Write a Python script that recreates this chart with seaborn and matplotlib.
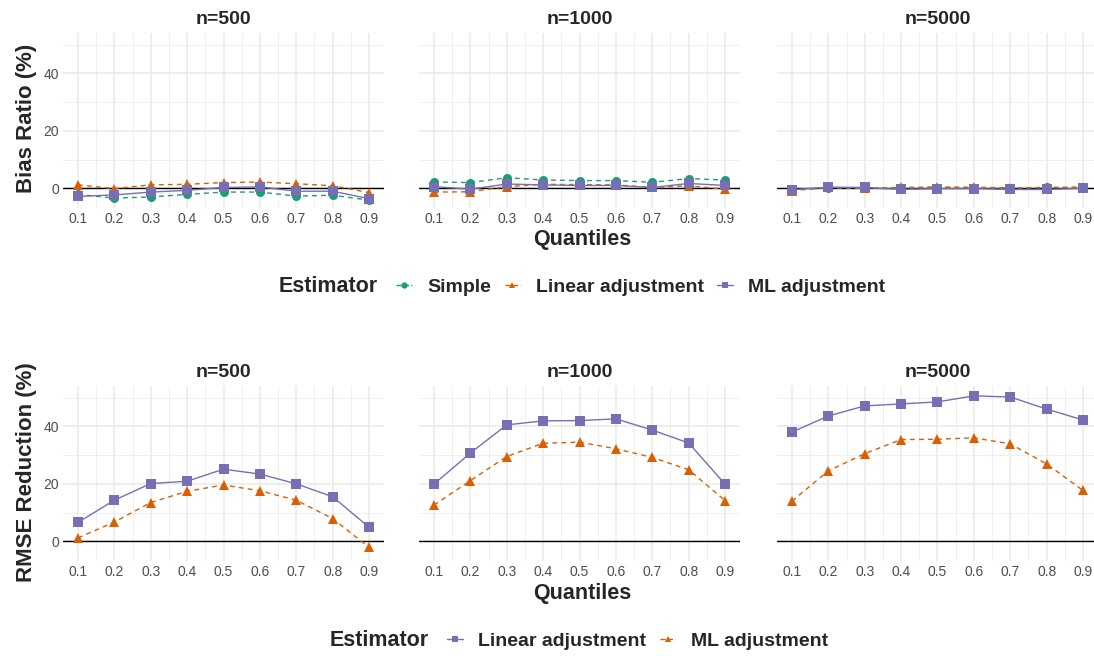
import numpy as np
import pandas as pd
import seaborn as sns
import matplotlib
matplotlib.use('Agg')
import matplotlib.pyplot as plt
from matplotlib.lines import Line2D
from matplotlib.ticker import FixedLocator

# Data
quantiles = [0.1, 0.2, 0.3, 0.4, 0.5, 0.6, 0.7, 0.8, 0.9]
panels = ['n=500', 'n=1000', 'n=5000']

# Bias ratio (%)
bias_simple_500 = [-2.1, -3.4, -3.0, -2.1, -1.3, -1.3, -2.7, -2.4, -4.1]
bias_linear_500 = [1.2, -0.1, 1.2, 1.4, 2.0, 2.2, 1.6, 0.9, -1.5]
bias_ml_500 = [-2.8, -2.3, -1.3, -0.7, 0.3, 0.5, -1.0, -1.0, -3.6]

bias_simple_1000 = [2.2, 2.0, 3.7, 2.9, 2.7, 2.7, 2.1, 3.4, 2.9]
bias_linear_1000 = [-1.3, -1.2, 0.6, 1.4, 1.3, 1.2, 0.3, 0.9, -0.3]
bias_ml_1000 = [0.6, -0.3, 1.5, 1.2, 1.0, 1.0, 0.3, 1.7, 1.0]

bias_simple_5000 = [-0.5, 0.2, 0.0, 0.0, 0.2, 0.1, 0.0, 0.3, 0.3]
bias_linear_5000 = [-0.8, 0.3, 0.1, 0.3, 0.5, 0.4, 0.2, 0.3, 0.4]
bias_ml_5000 = [-0.5, 0.4, 0.3, -0.4, -0.1, -0.1, -0.4, -0.4, 0.0]

# RMSE reduction (%)
rmse_linear_500 = [6.6, 14.3, 20.1, 20.9, 25.1, 23.4, 20.0, 15.5, 4.9]
rmse_ml_500 = [1.2, 6.7, 13.5, 17.4, 19.6, 17.6, 14.3, 7.9, -2.1]

rmse_linear_1000 = [19.9, 30.7, 40.5, 41.9, 42.0, 42.6, 38.7, 34.2, 19.9]
rmse_ml_1000 = [12.6, 21.1, 29.5, 34.1, 34.5, 32.2, 29.2, 24.9, 14.2]

rmse_linear_5000 = [38.0, 43.6, 47.1, 47.8, 48.5, 50.6, 50.2, 46.0, 42.2]
rmse_ml_5000 = [14.0, 24.5, 30.5, 35.4, 35.5, 36.0, 33.9, 26.9, 17.7]

bias_rows = []
for p, s, l, m in zip(panels,
                      [bias_simple_500, bias_simple_1000, bias_simple_5000],
                      [bias_linear_500, bias_linear_1000, bias_linear_5000],
                      [bias_ml_500, bias_ml_1000, bias_ml_5000]):
    for name, vals in [('Simple', s), ('Linear adjustment', l), ('ML adjustment', m)]:
        for q, v in zip(quantiles, vals):
            bias_rows.append({'n': p, 'Estimator': name, 'q': q, 'value': v})
bias = pd.DataFrame(bias_rows)

rmse_rows = []
for p, l, m in zip(panels,
                   [rmse_linear_500, rmse_linear_1000, rmse_linear_5000],
                   [rmse_ml_500, rmse_ml_1000, rmse_ml_5000]):
    for name, vals in [('Linear adjustment', l), ('ML adjustment', m)]:
        for q, v in zip(quantiles, vals):
            rmse_rows.append({'n': p, 'Estimator': name, 'q': q, 'value': v})
rmse = pd.DataFrame(rmse_rows)

green, orange, purple = '#1B9E77', '#D95F02', '#7570B3'
dash = (3.5, 3.0)

sns.set_style('white')
plt.rcParams['font.family'] = ['Liberation Sans', 'DejaVu Sans']

W, H = 1094, 656
fig = plt.figure(figsize=(W / 100, H / 100), dpi=100)

lefts = [63.4, 419.4, 777.4]
pw = 320.2
row_tops = [32.5, 385.5]
ph = 175.1


def style_ax(ax, first):
    ax.set_xlim(0.06, 0.94)
    ax.set_ylim(-6.7, 54.2)
    ax.xaxis.set_major_locator(FixedLocator(quantiles))
    ax.xaxis.set_minor_locator(FixedLocator([0.15, 0.25, 0.35, 0.45, 0.55, 0.65, 0.75, 0.85]))
    ax.yaxis.set_major_locator(FixedLocator([0, 20, 40]))
    ax.yaxis.set_minor_locator(FixedLocator([10, 30, 50]))
    ax.set_xticklabels([f'{q:.1f}' for q in quantiles])
    ax.grid(which='major', color='#EBEBEB', lw=1.2, zorder=0)
    ax.grid(which='minor', color='#EFEFEF', lw=0.7, zorder=0)
    ax.set_axisbelow(True)
    for sp in ax.spines.values():
        sp.set_visible(False)
    ax.tick_params(which='both', length=0, pad=3, labelsize=10, labelcolor='#4D4D4D')
    if not first:
        ax.set_yticklabels([])
    ax.axhline(0, color='black', lw=1.0, zorder=1.5)
    ax.set_xlabel('')
    ax.set_ylabel('')


def add_ax(i, row):
    top = row_tops[row]
    return fig.add_axes([lefts[i] / W, 1 - (top + ph) / H, pw / W, ph / H])


# Top row: bias ratio
for i, p in enumerate(panels):
    ax = add_ax(i, 0)
    sns.lineplot(data=bias[bias['n'] == p], x='q', y='value',
                 hue='Estimator', style='Estimator',
                 hue_order=['Simple', 'Linear adjustment', 'ML adjustment'],
                 style_order=['Simple', 'Linear adjustment', 'ML adjustment'],
                 palette={'Simple': green, 'Linear adjustment': orange, 'ML adjustment': purple},
                 markers={'Simple': 'o', 'Linear adjustment': '^', 'ML adjustment': 's'},
                 dashes={'Simple': dash, 'Linear adjustment': dash, 'ML adjustment': ''},
                 linewidth=1.0, markersize=6.5, markeredgewidth=0, legend=False, ax=ax)
    style_ax(ax, i == 0)
    ax.set_title(p, fontsize=14, fontweight='bold', pad=6)

# Bottom row: RMSE reduction
for i, p in enumerate(panels):
    ax = add_ax(i, 1)
    sns.lineplot(data=rmse[rmse['n'] == p], x='q', y='value',
                 hue='Estimator', style='Estimator',
                 hue_order=['Linear adjustment', 'ML adjustment'],
                 style_order=['Linear adjustment', 'ML adjustment'],
                 palette={'Linear adjustment': purple, 'ML adjustment': orange},
                 markers={'Linear adjustment': 's', 'ML adjustment': '^'},
                 dashes={'Linear adjustment': '', 'ML adjustment': dash},
                 linewidth=1.0, markersize=6.5, markeredgewidth=0, legend=False, ax=ax)
    style_ax(ax, i == 0)
    ax.set_title(p, fontsize=14, fontweight='bold', pad=6)

# Axis titles
fig.text(27 / W, 1 - 118 / H, 'Bias Ratio (%)', rotation=90, ha='center', va='center',
         fontsize=16, fontweight='bold')
fig.text(27 / W, 1 - 472 / H, 'RMSE Reduction (%)', rotation=90, ha='center', va='center',
         fontsize=16, fontweight='bold')
fig.text(582 / W, 1 - 240 / H, 'Quantiles', ha='center', va='center', fontsize=15.5, fontweight='bold')
fig.text(582 / W, 1 - 594 / H, 'Quantiles', ha='center', va='center', fontsize=15.5, fontweight='bold')


def handle(color, marker, ls):
    return Line2D([], [], color=color, marker=marker, linestyle=ls, lw=1.0,
                  markersize=4.5, markeredgewidth=0)


leg_kw = dict(frameon=False, handlelength=0.8, handletextpad=0.8, columnspacing=0.7,
              borderpad=0, borderaxespad=0, loc='center left',
              prop={'weight': 'bold', 'size': 14})

# Top legend
fig.text(279 / W, 1 - 287 / H, 'Estimator', ha='left', va='center', fontsize=15.5, fontweight='bold')
fig.legend([handle(green, 'o', '--'), handle(orange, '^', '--'), handle(purple, 's', '-')],
           ['Simple', 'Linear adjustment', 'ML adjustment'], ncol=3,
           bbox_to_anchor=(396 / W, 1 - 287 / H), **leg_kw)

# Bottom legend
fig.text(330 / W, 1 - 641 / H, 'Estimator', ha='left', va='center', fontsize=15.5, fontweight='bold')
fig.legend([handle(purple, 's', '-'), handle(orange, '^', '--')],
           ['Linear adjustment', 'ML adjustment'], ncol=2,
           bbox_to_anchor=(447 / W, 1 - 641 / H), **leg_kw)

fig.savefig('out.png', dpi=100)
